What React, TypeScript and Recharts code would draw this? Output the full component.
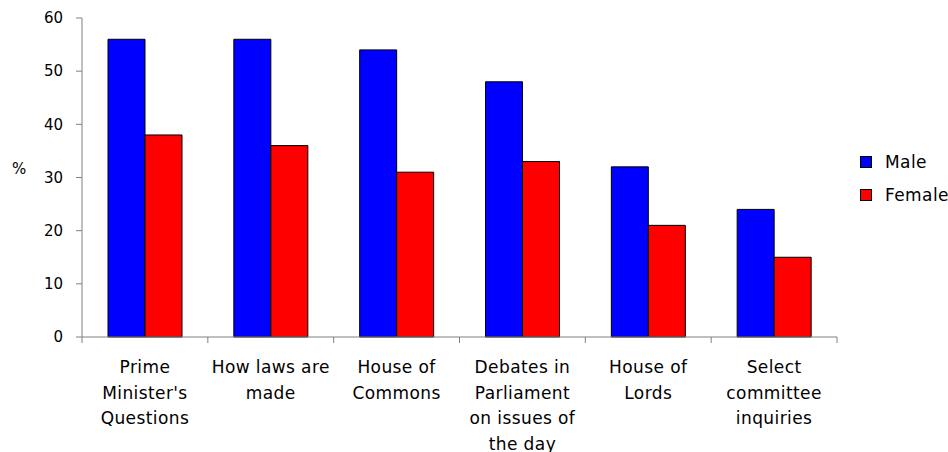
import { Bar, BarChart, XAxis, YAxis } from "recharts";

const categories = [
  "Prime Minister's Questions",
  "How laws are made",
  "House of Commons",
  "Debates in Parliament on issues of the day",
  "House of Lords",
  "Select committee inquiries",
];

const tickLines = [
  ["Prime", "Minister's", "Questions"],
  ["How laws are", "made"],
  ["House of", "Commons"],
  ["Debates in", "Parliament", "on issues of", "the day"],
  ["House of", "Lords"],
  ["Select", "committee", "inquiries"],
];

const male = [56, 56, 54, 48, 32, 24];
const female = [38, 36, 31, 33, 21, 15];
const yTicks = [0, 10, 20, 30, 40, 50, 60];

const data = categories.map((name, i) => ({ name, male: male[i], female: female[i] }));

const FONT = "'DejaVu Sans', Verdana, sans-serif";
const AXIS = "#808080";
const PLOT_LEFT = 82;
const PLOT_RIGHT = 837;
const BAND = (PLOT_RIGHT - PLOT_LEFT) / categories.length;

const CategoryTick = (props: any) => {
  const { x, y, index } = props;
  const lines = tickLines[index] ?? [];
  const left = x - BAND / 2;
  return (
    <g>
      <line x1={left} y1={y} x2={left} y2={y + 6} stroke={AXIS} />
      {index === categories.length - 1 && (
        <line x1={left + BAND} y1={y} x2={left + BAND} y2={y + 6} stroke={AXIS} />
      )}
      <text
        x={x}
        y={y + 36}
        textAnchor="middle"
        fill="#000"
        fontSize={17}
        letterSpacing={0.4}
        fontFamily={FONT}
      >
        {lines.map((t, i) => (
          <tspan key={i} x={x} dy={i === 0 ? 0 : 25.5}>
            {t}
          </tspan>
        ))}
      </text>
    </g>
  );
};

const legendItems = [
  { label: "Male", color: "#0000ff" },
  { label: "Female", color: "#ff0000" },
];

export default function App() {
  return (
    <div style={{ position: "absolute", left: 0, top: 0, width: 948, height: 452, background: "#fff" }}>
      <BarChart
        width={948}
        height={452}
        data={data}
        margin={{ top: 18, right: 948 - PLOT_RIGHT, bottom: 0, left: 32 }}
        barGap={0}
        barSize={37}
      >
        <XAxis
          dataKey="name"
          height={115}
          stroke={AXIS}
          tickLine={false}
          tickSize={0}
          tickMargin={0}
          tick={<CategoryTick />}
          interval={0}
        />
        <YAxis
          width={50}
          domain={[0, 60]}
          ticks={yTicks}
          stroke={AXIS}
          tickSize={6}
          tickMargin={13}
          tick={{ fill: "#000", fontSize: 15, fontFamily: FONT }}
          label={{
            value: "%",
            position: "insideLeft",
            offset: 0,
            dx: -20,
            dy: -9,
            fill: "#000",
            fontSize: 15,
            fontFamily: FONT,
          }}
        />
        <Bar dataKey="male" name="Male" fill="#0000ff" stroke="#000" isAnimationActive={false} />
        <Bar dataKey="female" name="Female" fill="#ff0000" stroke="#000" isAnimationActive={false} />
      </BarChart>
      <div
        style={{
          position: "absolute",
          left: 860,
          top: 145,
          fontFamily: FONT,
          fontSize: 17,
          letterSpacing: 0.4,
          color: "#000",
        }}
      >
        {legendItems.map((item) => (
          <div key={item.label} style={{ display: "flex", alignItems: "center", height: 33 }}>
            <span
              style={{
                width: 10,
                height: 10,
                background: item.color,
                border: "1px solid #000",
                marginRight: 13,
              }}
            />
            <span>{item.label}</span>
          </div>
        ))}
      </div>
    </div>
  );
}
